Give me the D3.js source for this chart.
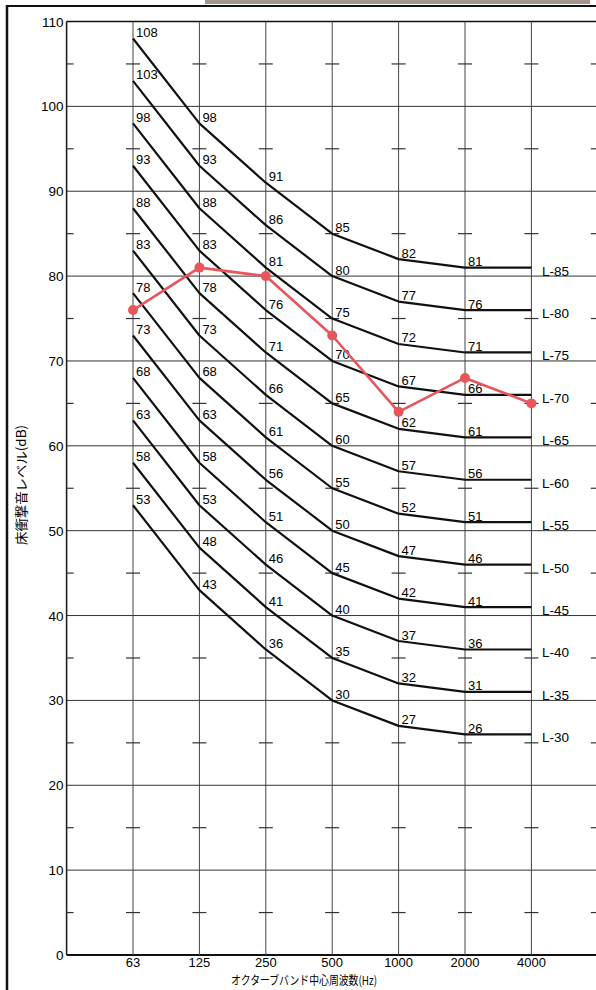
<!DOCTYPE html>
<html>
<head>
<meta charset="utf-8">
<script src="https://cdn.jsdelivr.net/npm/d3@7"></script>
<style>
  html, body { margin: 0; padding: 0; background: #fff; }
  svg { display: block; }
  text { font-family: "Liberation Sans", Arial, sans-serif; fill: #000; }
  .cjk { font-family: "Noto Sans CJK JP", "Noto Sans", sans-serif; }
</style>
</head>
<body>
<svg id="chart" width="596" height="990"></svg>
<script>
// ---- data ----
const bands = ["63", "125", "250", "500", "1000", "2000", "4000"];
const yTicks = [0, 10, 20, 30, 40, 50, 60, 70, 80, 90, 100, 110];
const minorTicks = [5, 15, 25, 35, 45, 55, 65, 75, 85, 95, 105];
const curveNames = ["L-85", "L-80", "L-75", "L-70", "L-65", "L-60", "L-55", "L-50", "L-45", "L-40", "L-35", "L-30"];
const curveL85 = [108, 98, 91, 85, 82, 81, 81];
const curveL80 = [103, 93, 86, 80, 77, 76, 76];
const curveL75 = [98, 88, 81, 75, 72, 71, 71];
const curveL70 = [93, 83, 76, 70, 67, 66, 66];
const curveL65 = [88, 78, 71, 65, 62, 61, 61];
const curveL60 = [83, 73, 66, 60, 57, 56, 56];
const curveL55 = [78, 68, 61, 55, 52, 51, 51];
const curveL50 = [73, 63, 56, 50, 47, 46, 46];
const curveL45 = [68, 58, 51, 45, 42, 41, 41];
const curveL40 = [63, 53, 46, 40, 37, 36, 36];
const curveL35 = [58, 48, 41, 35, 32, 31, 31];
const curveL30 = [53, 43, 36, 30, 27, 26, 26];
const curves = [curveL85, curveL80, curveL75, curveL70, curveL65, curveL60,
                curveL55, curveL50, curveL45, curveL40, curveL35, curveL30];
const measured = [76, 81, 80, 73, 64, 68, 65];
const yTitle = "床衝撃音レベル(dB)";
const xTitle = "オクターブバンド中心周波数(Hz)";

// ---- layout ----
const svg = d3.select("#chart");
// band index -1 is the y axis; index 7 is the next (off-picture) grid line
const x = d3.scaleLinear().domain([-1, 7]).range([66.6, 597.8]);
const y = d3.scaleLinear().domain([0, 110]).range([955, 21.5]);
const xRight = 600;

// decorative frame
svg.append("rect").attr("x", 205).attr("y", 0).attr("width", 385).attr("height", 4).attr("fill", "#a3948c");
svg.append("line").attr("x1", 7).attr("x2", 596).attr("y1", 6).attr("y2", 6).attr("stroke", "#111").attr("stroke-width", 2);
svg.append("line").attr("x1", 7).attr("x2", 7).attr("y1", 5).attr("y2", 990).attr("stroke", "#111").attr("stroke-width", 2.5);

const g = svg.append("g");

// horizontal grid
g.selectAll(".hgrid").data(yTicks).enter().append("line")
  .attr("x1", x(-1)).attr("x2", xRight)
  .attr("y1", d => y(d)).attr("y2", d => y(d))
  .attr("stroke", d => (d === 0 || d === 110) ? "#111" : "#333")
  .attr("stroke-width", d => d === 0 ? 2 : (d === 110 ? 1.6 : 1));

// vertical grid
const vIdx = d3.range(0, 8);
g.selectAll(".vgrid").data(vIdx).enter().append("line")
  .attr("x1", d => x(d)).attr("x2", d => x(d))
  .attr("y1", y(0)).attr("y2", y(110))
  .attr("stroke", "#444").attr("stroke-width", 1);

// y axis line
g.append("line").attr("x1", x(-1)).attr("x2", x(-1)).attr("y1", y(0)).attr("y2", y(110))
  .attr("stroke", "#222").attr("stroke-width", 1.6);

// minor ticks
vIdx.forEach(i => {
  g.selectAll(null).data(minorTicks).enter().append("line")
    .attr("x1", x(i) - 7).attr("x2", x(i) + 7)
    .attr("y1", d => y(d)).attr("y2", d => y(d))
    .attr("stroke", "#333").attr("stroke-width", 1.2);
});
g.selectAll(".yminor").data(minorTicks).enter().append("line")
  .attr("x1", x(-1)).attr("x2", x(-1) + 7)
  .attr("y1", d => y(d)).attr("y2", d => y(d))
  .attr("stroke", "#333").attr("stroke-width", 1.2);

// y tick labels
g.selectAll(".ylab").data(yTicks).enter().append("text")
  .attr("x", x(-1) - 3).attr("y", d => y(d) + 5)
  .attr("text-anchor", "end").attr("font-size", 13.5)
  .text(d => d);

// x tick labels
g.selectAll(".xlab").data(bands).enter().append("text")
  .attr("x", (d, i) => x(i)).attr("y", 967)
  .attr("text-anchor", "middle").attr("font-size", 13)
  .text(d => d);

// axis titles
svg.append("text").attr("class", "cjk")
  .attr("transform", "translate(26,485) rotate(-90)")
  .attr("text-anchor", "middle").attr("font-size", 13)
  .attr("textLength", 120).attr("lengthAdjust", "spacingAndGlyphs")
  .text(yTitle);
svg.append("text").attr("class", "cjk")
  .attr("x", 304).attr("y", 985)
  .attr("text-anchor", "middle").attr("font-size", 12)
  .attr("textLength", 146).attr("lengthAdjust", "spacingAndGlyphs")
  .text(xTitle);

// L curves
const line = d3.line().x((d, i) => x(i)).y(d => y(d));
g.selectAll(".curve").data(curves).enter().append("path")
  .attr("d", d => line(d))
  .attr("fill", "none").attr("stroke", "#111").attr("stroke-width", 2.2)
  .attr("stroke-linejoin", "round");

// value labels (63..2000)
curves.forEach(vals => {
  g.selectAll(null).data(vals.slice(0, 6)).enter().append("text")
    .attr("x", (d, i) => x(i) + 3).attr("y", d => y(d) - 1.5)
    .attr("font-size", 13)
    .text(d => d);
});

// curve names
g.selectAll(".cname").data(curveNames).enter().append("text")
  .attr("x", 542).attr("y", (d, i) => y(curves[i][6]) + 8)
  .attr("font-size", 13.5)
  .text(d => d);

// measured
const red = "#e8555b";
g.append("path").attr("d", line(measured))
  .attr("fill", "none").attr("stroke", red).attr("stroke-width", 2.6)
  .attr("stroke-linejoin", "round");
g.selectAll(".pt").data(measured).enter().append("circle")
  .attr("cx", (d, i) => x(i)).attr("cy", d => y(d)).attr("r", 5)
  .attr("fill", red);
</script>
</body>
</html>
